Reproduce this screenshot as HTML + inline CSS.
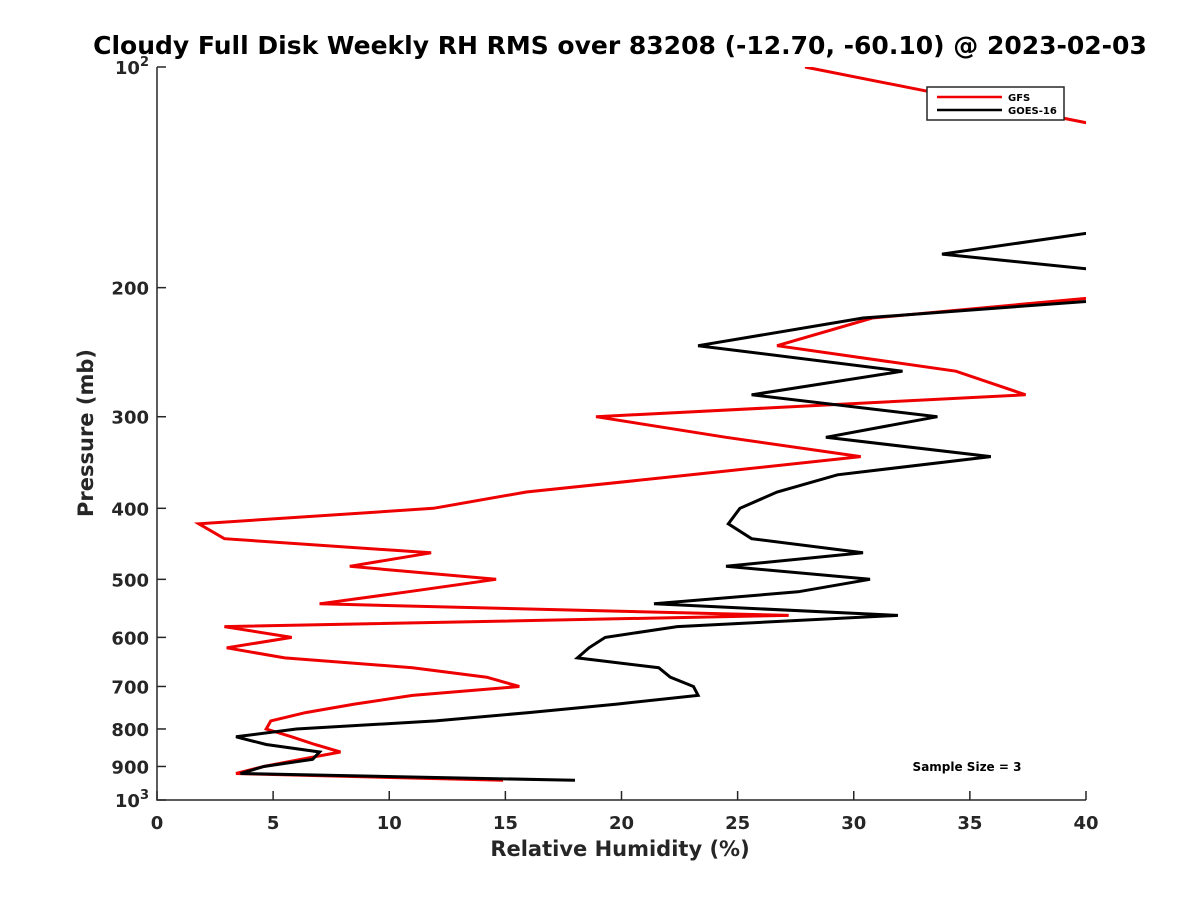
<!DOCTYPE html>
<html><head><meta charset="utf-8"><style>
body{margin:0;background:#fff}
svg text{font-family:"DejaVu Sans","Liberation Sans",sans-serif;font-weight:bold;fill:#262626}
</style></head><body>
<svg width="1200" height="900" xmlns="http://www.w3.org/2000/svg">
<defs><clipPath id="clip"><rect x="157" y="67" width="929" height="733"/></clipPath></defs>
<text x="620" y="54" text-anchor="middle" font-size="25" style="fill:#000">Cloudy Full Disk Weekly RH RMS over 83208 (-12.70, -60.10) @ 2023-02-03</text>
<g id="axes"></g>
<g id="lines" clip-path="url(#clip)"></g>
<g id="legend">
<rect x="927" y="87" width="137" height="33" fill="#ffffff" stroke="#262626" stroke-width="1.5"/>
<line x1="937" y1="97" x2="1002" y2="97" stroke="#e00" stroke-width="2.5"/>
<text x="1008" y="101" font-size="10" style="fill:#000">GFS</text>
<line x1="937" y1="110" x2="1002" y2="110" stroke="#000" stroke-width="2.5"/>
<text x="1008" y="114" font-size="10" style="fill:#000">GOES-16</text>
</g>
<text x="967" y="771" text-anchor="middle" font-size="12" style="fill:#000">Sample Size = 3</text>
<text x="620" y="856" text-anchor="middle" font-size="21">Relative Humidity (%)</text>
<text transform="translate(93,433) rotate(-90)" text-anchor="middle" font-size="21">Pressure (mb)</text>
</svg>
<script>
const levels=[100,120,140,160,180,200,220,240,260,280,300,320,340,360,380,400,420,440,460,480,500,520,540,560,580,600,620,640,660,680,700,720,740,760,780,800,820,840,860,880,900,920,940];
const gfs=[27.9,40.5,50,50,50,45,30.8,26.7,34.4,37.4,18.9,24.5,30.3,23,15.9,11.9,1.8,2.9,11.8,8.3,14.6,10.8,7.0,27.2,2.9,5.8,3.0,5.5,11.0,14.2,15.6,11,8.5,6.4,4.9,4.7,5.8,6.8,7.9,6.2,4.6,3.4,14.9];
const goes=[50,50,50,45,33.8,48,30.4,23.3,32.1,25.6,33.6,28.8,35.9,29.3,26.7,25.1,24.6,25.6,30.4,24.5,30.7,27.6,21.4,31.9,22.4,19.3,18.6,18.1,21.6,22.1,23.1,23.3,19.8,16,12.0,6.0,3.4,4.7,7.0,6.7,4.6,3.6,18.0];
const xTicks=[0,5,10,15,20,25,30,35,40];
const yTicks=[100,200,300,400,500,600,700,800,900,1000];
const yLabels=["10|2","200","300","400","500","600","700","800","900","10|3"];
const X0=157,X1=1086,Y0=67,Y1=800;
const xs=v=>X0+(v/40)*(X1-X0);
const ys=p=>Y0+Math.log10(p/100)*(Y1-Y0);
const NS="http://www.w3.org/2000/svg";
const axes=document.getElementById('axes'),lines=document.getElementById('lines');
function mk(t,a,parent){const e=document.createElementNS(NS,t);for(const k in a)e.setAttribute(k,a[k]);parent.appendChild(e);return e;}
const ax=mk('path',{d:`M${X0},${Y0}V${Y1}H${X1}`,fill:'none',stroke:'#262626','stroke-width':1.5},axes);


xTicks.forEach(v=>{const x=xs(v);
mk('line',{x1:x,y1:Y1,x2:x,y2:Y1-9,stroke:'#262626','stroke-width':1.5},axes);
const t=mk('text',{x:x,y:Y1+29,'text-anchor':'middle','font-size':18},axes);t.textContent=v;

});
yTicks.forEach((p,i)=>{const y=ys(p);
mk('line',{x1:X0,y1:y,x2:X0+9,y2:y,stroke:'#262626','stroke-width':1.5},axes);
const t=mk('text',{x:X0-8,y:y+7,'text-anchor':'end','font-size':18},axes);
const parts=yLabels[i].split('|');
if(parts.length>1){t.textContent=parts[0];const s=mk('tspan',{dy:-8,'font-size':13},t);s.textContent=parts[1];}
else t.textContent=parts[0];

});
function line(vals,color,name){const d=vals.map((v,i)=>(i?'L':'M')+xs(v).toFixed(1)+','+ys(levels[i]).toFixed(1)).join('');
const e=mk('path',{d:d,fill:'none',stroke:color,'stroke-width':3,'stroke-linejoin':'miter'},lines);

}
line(gfs,'#e00','gfs-line');
line(goes,'#000','goes16-line');
document.querySelector('svg').appendChild(document.getElementById('legend'));
</script>
</body></html>
